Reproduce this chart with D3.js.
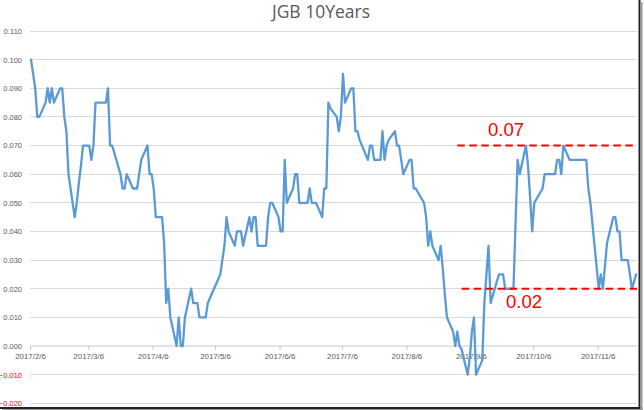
<!DOCTYPE html>
<html><head><meta charset="utf-8">
<script src="https://cdn.jsdelivr.net/npm/d3@7"></script>
<style>html,body{margin:0;padding:0;background:#fff;}svg{display:block;}</style>
</head><body>
<script>
const title = "JGB 10Years";
const dates = [
"2017-02-06","2017-02-07","2017-02-08","2017-02-09","2017-02-10","2017-02-13","2017-02-14","2017-02-15","2017-02-16","2017-02-17",
"2017-02-20","2017-02-21","2017-02-22","2017-02-23","2017-02-24","2017-02-27","2017-02-28","2017-03-01","2017-03-02","2017-03-03",
"2017-03-06","2017-03-07","2017-03-08","2017-03-09","2017-03-10","2017-03-13","2017-03-14","2017-03-15","2017-03-16","2017-03-17",
"2017-03-21","2017-03-22","2017-03-23","2017-03-24","2017-03-27","2017-03-28","2017-03-29","2017-03-30","2017-03-31",
"2017-04-03","2017-04-04","2017-04-05","2017-04-06","2017-04-07","2017-04-10","2017-04-11","2017-04-12","2017-04-13","2017-04-14",
"2017-04-17","2017-04-18","2017-04-19","2017-04-20","2017-04-21","2017-04-24","2017-04-25","2017-04-26","2017-04-27","2017-04-28",
"2017-05-01","2017-05-02","2017-05-08","2017-05-09","2017-05-10","2017-05-11","2017-05-12","2017-05-15","2017-05-16","2017-05-17",
"2017-05-18","2017-05-19","2017-05-22","2017-05-23","2017-05-24","2017-05-25","2017-05-26","2017-05-29","2017-05-30","2017-05-31",
"2017-06-01","2017-06-02","2017-06-05","2017-06-06","2017-06-07","2017-06-08","2017-06-09","2017-06-12","2017-06-13","2017-06-14",
"2017-06-15","2017-06-16","2017-06-19","2017-06-20","2017-06-21","2017-06-22","2017-06-23","2017-06-26","2017-06-27","2017-06-28",
"2017-06-29","2017-06-30","2017-07-03","2017-07-04","2017-07-05","2017-07-06","2017-07-07","2017-07-10","2017-07-11","2017-07-12",
"2017-07-13","2017-07-14","2017-07-18","2017-07-19","2017-07-20","2017-07-21","2017-07-24","2017-07-25","2017-07-26","2017-07-27",
"2017-07-28","2017-07-31","2017-08-01","2017-08-02","2017-08-03","2017-08-04","2017-08-07","2017-08-08","2017-08-09","2017-08-10",
"2017-08-14","2017-08-15","2017-08-16","2017-08-17","2017-08-18","2017-08-21","2017-08-22","2017-08-23","2017-08-24","2017-08-25",
"2017-08-28","2017-08-29","2017-08-30","2017-08-31","2017-09-01","2017-09-04","2017-09-05","2017-09-06","2017-09-07","2017-09-08",
"2017-09-11","2017-09-12","2017-09-13","2017-09-14","2017-09-15","2017-09-19","2017-09-20","2017-09-21","2017-09-22","2017-09-25",
"2017-09-26","2017-09-27","2017-09-28","2017-09-29","2017-10-02","2017-10-03","2017-10-04","2017-10-05","2017-10-06","2017-10-10",
"2017-10-11","2017-10-12","2017-10-13","2017-10-16","2017-10-17","2017-10-18","2017-10-19","2017-10-20","2017-10-23","2017-10-24",
"2017-10-25","2017-10-26","2017-10-27","2017-10-30","2017-10-31","2017-11-01","2017-11-02","2017-11-06","2017-11-07","2017-11-08",
"2017-11-09","2017-11-10","2017-11-13","2017-11-14","2017-11-15","2017-11-16","2017-11-17","2017-11-20","2017-11-21","2017-11-22",
"2017-11-24"];
const yields = [
0.100,0.095,0.090,0.080,0.080,0.085,0.090,0.085,0.090,0.085,
0.090,0.090,0.080,0.075,0.060,0.045,0.050,0.057,0.063,0.070,
0.070,0.065,0.070,0.085,0.085,0.085,0.085,0.090,0.070,0.070,
0.060,0.055,0.055,0.060,0.055,0.055,0.055,0.060,0.065,
0.070,0.060,0.060,0.055,0.045,0.045,0.036,0.015,0.020,0.010,
0.000,0.010,0.000,0.000,0.010,0.020,0.015,0.015,0.015,0.010,
0.010,0.015,0.025,0.030,0.035,0.045,0.040,0.035,0.040,0.040,
0.040,0.035,0.045,0.040,0.045,0.045,0.035,0.035,0.035,0.045,
0.050,0.050,0.045,0.040,0.040,0.065,0.050,0.055,0.060,0.060,
0.050,0.050,0.050,0.055,0.050,0.050,0.050,0.045,0.055,0.055,
0.085,0.083,0.080,0.075,0.080,0.095,0.085,0.090,0.090,0.075,
0.075,0.072,0.065,0.070,0.070,0.065,0.065,0.075,0.065,0.070,
0.072,0.075,0.070,0.070,0.065,0.060,0.065,0.065,0.055,0.055,
0.050,0.045,0.035,0.040,0.035,0.030,0.035,0.027,0.018,0.010,
0.005,0.000,0.005,0.000,-0.001,-0.010,-0.004,0.005,0.010,-0.010,
-0.005,0.015,0.025,0.035,0.015,0.025,0.025,0.025,0.020,0.020,
0.020,0.043,0.065,0.060,0.070,0.063,0.052,0.040,0.050,0.055,
0.060,0.060,0.060,0.060,0.065,0.065,0.060,0.070,0.065,0.065,
0.065,0.065,0.065,0.065,0.065,0.055,0.050,0.020,0.025,0.020,
0.028,0.036,0.045,0.045,0.040,0.040,0.030,0.030,0.025,0.020,
0.025];
const xDomain = ["2017-02-06","2017-11-25"];
const xTickDates = ["2017-02-06","2017-03-06","2017-04-06","2017-05-06","2017-06-06","2017-07-06","2017-08-06","2017-09-06","2017-10-06","2017-11-06"];
const yTicks = [-0.02,-0.01,0,0.01,0.02,0.03,0.04,0.05,0.06,0.07,0.08,0.09,0.10,0.11];
const refLevels = [0.07, 0.02];
const refStarts = ["2017-08-30T12:00","2017-09-01T14:00"];
const refLabels = ["0.07","0.02"];

const W = 644, H = 410;
const parse = s => new Date(s + (s.length === 10 ? "T00:00:00Z" : ":00Z"));
const svg = d3.select("body").append("svg").attr("width", W).attr("height", H);

const x = d3.scaleUtc().domain(xDomain.map(parse)).range([30, 637.2]);
const y = d3.scaleLinear().domain([-0.02, 0.11]).range([403.3, 31]);

const font = "'Liberation Sans', Arial, sans-serif";

// gridlines
svg.append("g").selectAll("line").data(yTicks.filter(v => v !== 0)).join("line")
  .attr("x1", 30).attr("x2", 637).attr("y1", d => y(d)).attr("y2", d => y(d))
  .attr("stroke", "#d9d9d9").attr("stroke-width", 1).attr("shape-rendering","crispEdges");

// y labels
const yAxis = d3.axisLeft(y).tickValues(yTicks).tickFormat(d3.format(".3f")).tickSize(0).tickPadding(8);
const gy = svg.append("g").attr("transform", "translate(30,0)").call(yAxis);
gy.select(".domain").remove();
gy.selectAll("text").attr("font-family", font).attr("font-size", 7.5)
  .attr("fill", d => d < 0 ? "#ff0000" : "#595959");

// x axis at y=0
const xAxis = d3.axisBottom(x).tickValues(xTickDates.map(parse))
  .tickFormat(d3.utcFormat("%Y/%-m/%-d")).tickSizeInner(4).tickSizeOuter(0).tickPadding(3);
const gx = svg.append("g").attr("transform", `translate(0,${y(0)})`).call(xAxis);
gx.select(".domain").attr("stroke", "#c8c8c8").attr("d", `M30,0H637`);
gx.selectAll(".tick line").attr("stroke", "#c8c8c8");
gx.selectAll("text").attr("font-family", font).attr("font-size", 7.9).attr("fill", "#595959");

// data line
const pts = dates.map((d, i) => ({ t: new Date(parse(d).getTime() + 12 * 3600e3), v: yields[i] }));
svg.append("path").datum(pts)
  .attr("d", d3.line().x(d => x(d.t)).y(d => y(d.v)))
  .attr("fill", "none").attr("stroke", "#5b9bd5").attr("stroke-width", 2.3)
  .attr("stroke-linejoin", "round").attr("stroke-linecap", "round");

// reference lines
refLevels.forEach((lv, i) => {
  svg.append("line").attr("x1", x(parse(refStarts[i]))).attr("x2", 637)
    .attr("y1", y(lv)).attr("y2", y(lv))
    .attr("stroke", "#ff0000").attr("stroke-width", 2).attr("stroke-dasharray", "7.5,4.5");
});
svg.append("text").attr("x", 488).attr("y", 136).text(refLabels[0])
  .attr("font-family", font).attr("font-size", 18.5).attr("fill", "#ff0000");
svg.append("text").attr("x", 506).attr("y", 307.5).text(refLabels[1])
  .attr("font-family", font).attr("font-size", 18.5).attr("fill", "#ff0000");

// title
svg.append("text").attr("x", 321).attr("y", 18).attr("text-anchor", "middle")
  .attr("font-family", "'Open Sans', sans-serif").attr("font-size", 17.5).attr("fill", "#595959").text(title);

// frame shadow (right and bottom)
svg.append("line").attr("x1", 639.5).attr("x2", 639.5).attr("y1", 0).attr("y2", 408.5).attr("stroke", "#222").attr("stroke-width", 2);
svg.append("line").attr("x1", 0).attr("x2", 640.5).attr("y1", 408).attr("y2", 408).attr("stroke", "#222").attr("stroke-width", 2);
svg.append("line").attr("x1", 641.5).attr("x2", 641.5).attr("y1", 2).attr("y2", 410).attr("stroke", "#999").attr("stroke-width", 2);
svg.append("line").attr("x1", 2).attr("x2", 643).attr("y1", 410).attr("y2", 410).attr("stroke", "#999").attr("stroke-width", 2);
</script>
</body></html>
